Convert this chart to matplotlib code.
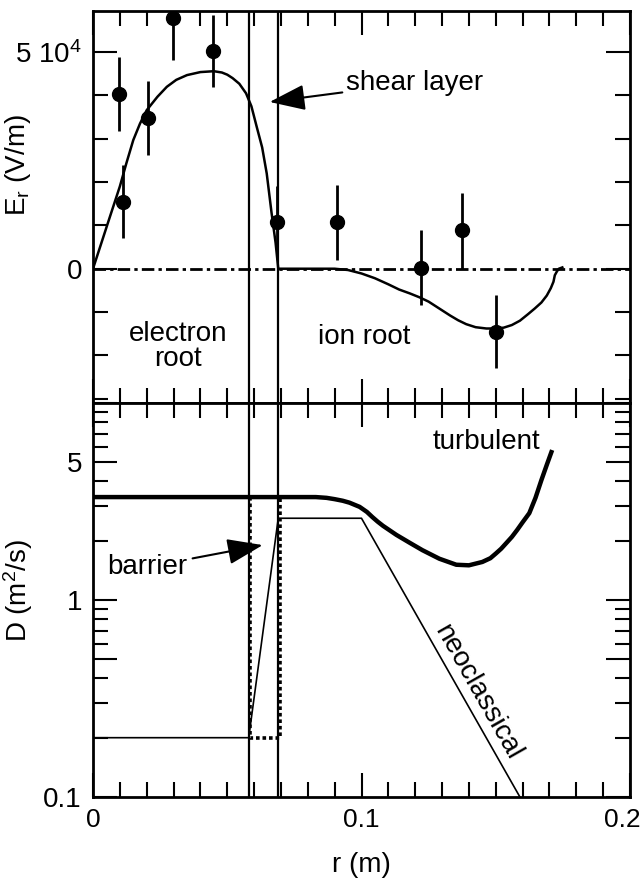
import matplotlib
matplotlib.use("Agg")
import matplotlib.pyplot as plt
import matplotlib.transforms as mtransforms
from matplotlib.ticker import FixedLocator, NullFormatter

plt.rcParams['font.family'] = ['Liberation Sans', 'DejaVu Sans']
plt.rcParams['mathtext.default'] = 'regular'
plt.rcParams['font.size'] = 20

# ---- data ----
# top panel: measured Er points (units of 1e4 V/m)
r_pts = [0.0097, 0.011, 0.0203, 0.0298, 0.0447, 0.0685, 0.091, 0.122, 0.1376, 0.150]
er_pts = [4.03, 1.55, 3.48, 5.78, 5.03, 1.07, 1.07, 0.02, 0.90, -1.45]
er_lo = [0.85, 0.85, 0.85, 0.96, 0.84, 0.85, 0.87, 0.85, 0.90, 0.85]
er_hi = [0.85, 0.85, 0.85, 0.90, 0.83, 0.85, 0.87, 0.88, 0.85, 0.85]

# top panel: model Er curve
r_er = [0.0, 0.0063, 0.010, 0.0125, 0.015, 0.0175, 0.020, 0.024, 0.0275, 0.031,
        0.035, 0.040, 0.045, 0.048, 0.050, 0.052, 0.0545, 0.057, 0.059, 0.061,
        0.063, 0.0647, 0.0665, 0.068, 0.069, 0.090, 0.095, 0.100, 0.105, 0.110,
        0.114, 0.118, 0.1216, 0.125, 0.128, 0.1305, 0.133, 0.136, 0.139, 0.1425,
        0.1465, 0.150, 0.153, 0.156, 0.159, 0.162, 0.1645, 0.167, 0.169, 0.1705,
        0.1715, 0.172, 0.1728, 0.1735, 0.1748]
er_curve = [0.0, 1.2, 1.9, 2.45, 2.97, 3.35, 3.66, 3.97, 4.2, 4.36,
            4.47, 4.54, 4.56, 4.53, 4.48, 4.40, 4.27, 4.05, 3.75, 3.27,
            2.8, 2.2, 1.29, 0.6, 0.0, 0.0, -0.03, -0.11, -0.22, -0.36,
            -0.48, -0.57, -0.66, -0.76, -0.88, -0.98, -1.08, -1.19, -1.28, -1.35,
            -1.38, -1.38, -1.36, -1.30, -1.20, -1.05, -0.92, -0.78, -0.62, -0.45,
            -0.30, -0.15, -0.06, 0.0, 0.03]

# bottom panel: diffusivities (m^2/s)
r_turb = [0.0, 0.058, 0.069, 0.083, 0.087, 0.090, 0.093, 0.0955, 0.0993, 0.102,
          0.104, 0.106, 0.108, 0.113, 0.118, 0.1227, 0.129, 0.1353, 0.140, 0.145,
          0.148, 0.150, 0.152, 0.154, 0.156, 0.158, 0.160, 0.1625, 0.1648, 0.167,
          0.169, 0.171]
d_turb = [3.33, 3.33, 3.33, 3.33, 3.30, 3.25, 3.19, 3.12, 2.97, 2.80,
          2.64, 2.50, 2.38, 2.14, 1.95, 1.79, 1.62, 1.51, 1.50, 1.56,
          1.63, 1.72, 1.82, 1.95, 2.09, 2.27, 2.48, 2.76, 3.30, 4.06,
          4.85, 5.77]

r_neo = [0.0, 0.058, 0.069, 0.100, 0.159]
d_neo = [0.2, 0.2, 2.6, 2.6, 0.1]

r_bar = [0.0585, 0.0585, 0.0695, 0.0695]
d_bar = [3.33, 0.2, 0.2, 3.33]

r_shear = [0.058, 0.069]

W, H = 644, 881
fig = plt.figure(figsize=(W / 100, H / 100), dpi=100)
left, right = 93 / W, 630 / W
ax1 = fig.add_axes([left, 1 - 403 / H, right - left, (403 - 11) / H])
ax2 = fig.add_axes([left, 1 - 797 / H, right - left, (797 - 403) / H])

# ---- top panel ----
ax1.axhline(0, color='k', lw=2, dashes=(4.5, 1.5, 1.2, 1.5))
ax1.plot(r_er, [v * 1e4 for v in er_curve], color='k', lw=1.8)
ax1.errorbar(r_pts, [v * 1e4 for v in er_pts],
             yerr=[[v * 1e4 for v in er_lo], [v * 1e4 for v in er_hi]],
             fmt='o', color='k', ms=10, elinewidth=2, capsize=0)
for rs in r_shear:
    ax1.axvline(rs, color='k', lw=1.6)
ax1.set_xlim(0, 0.2)
ax1.set_ylim(-3.1e4, 5.95e4)
ax1.yaxis.set_major_locator(FixedLocator([0, 5e4]))
ax1.yaxis.set_minor_locator(FixedLocator([-3e4, -2e4, -1e4, 1e4, 2e4, 3e4, 4e4]))
ax1.set_yticklabels(['0', '5 10$^4$'])
ax1.set_ylabel('E$_r$ (V/m)')
ax1.yaxis.set_label_coords(-0.112, 0.607)

ax1.annotate('shear layer', xy=(0.0658, 3.85e4), xytext=(0.0944, 4.29e4),
             ha='left', va='center',
             arrowprops=dict(arrowstyle='-|>,head_length=1.1,head_width=0.4',
                             color='k', lw=1.5, mutation_scale=20, shrinkA=1, shrinkB=0))
ax1.text(0.0316, -1.8e4, 'electron\nroot', ha='center', va='center', linespacing=0.95)
ax1.text(0.1011, -1.57e4, 'ion root', ha='center', va='center')

# ---- bottom panel ----
ax2.set_yscale('log')
ax2.plot(r_turb, d_turb, color='k', lw=3.2, solid_capstyle='butt')
ax2.plot(r_neo, d_neo, color='k', lw=1.2)
ax2.plot(r_bar, d_bar, color='k', lw=2.6, linestyle=(0, (1, 0.8)))
for rs in r_shear:
    ax2.axvline(rs, color='k', lw=1.6)
ax2.set_xlim(0, 0.2)
ax2.set_ylim(0.1, 10)
ax2.yaxis.set_major_locator(FixedLocator([0.1, 0.5, 1, 5, 10]))
ax2.yaxis.set_minor_locator(FixedLocator([0.2, 0.3, 0.4, 0.6, 0.7, 0.8, 0.9,
                                          2, 3, 4, 6, 7, 8, 9]))
ax2.yaxis.set_minor_formatter(NullFormatter())
ax2.set_yticklabels(['0.1', '', '1', '5', ''])
ax2.set_ylabel('D (m$^2$/s)')
ax2.yaxis.set_label_coords(-0.108, 0.525)
ax2.set_xlabel('r (m)', labelpad=14)

ax2.annotate('barrier', xy=(0.0632, 1.90), xytext=(0.0052, 1.47),
             ha='left', va='center',
             arrowprops=dict(arrowstyle='-|>,head_length=1.1,head_width=0.4',
                             color='k', lw=1.5, mutation_scale=20, shrinkA=2, shrinkB=0))
ax2.text(0.1465, 6.34, 'turbulent', ha='center', va='center')
ax2.text(0.1431, 0.341, 'neoclassical', ha='center', va='center',
         rotation=-60.4, rotation_mode='anchor')

# ---- axes styling ----
for ax in (ax1, ax2):
    ax.xaxis.set_major_locator(FixedLocator([0, 0.1, 0.2]))
    ax.xaxis.set_minor_locator(FixedLocator([0.01 * i for i in range(1, 20) if i != 10]))
    ax.tick_params(which='both', direction='in', top=True, right=True, width=1.5)
    ax.tick_params(which='major', length=17, pad=8)
    ax.tick_params(which='minor', length=11)
    for s in ax.spines.values():
        s.set_linewidth(2)
ax1.tick_params(axis='x', labelbottom=False)
ax2.set_xticklabels(['0', '0.1', '0.2'])
ax2.tick_params(axis='x', labelsize=19)
# nudge the last x label left so it stays inside the figure
last = ax2.get_xticklabels()[-1]
last.set_transform(last.get_transform() +
                   mtransforms.ScaledTranslation(-8 / 100, 0, fig.dpi_scale_trans))

fig.savefig('out.png', dpi=100)
